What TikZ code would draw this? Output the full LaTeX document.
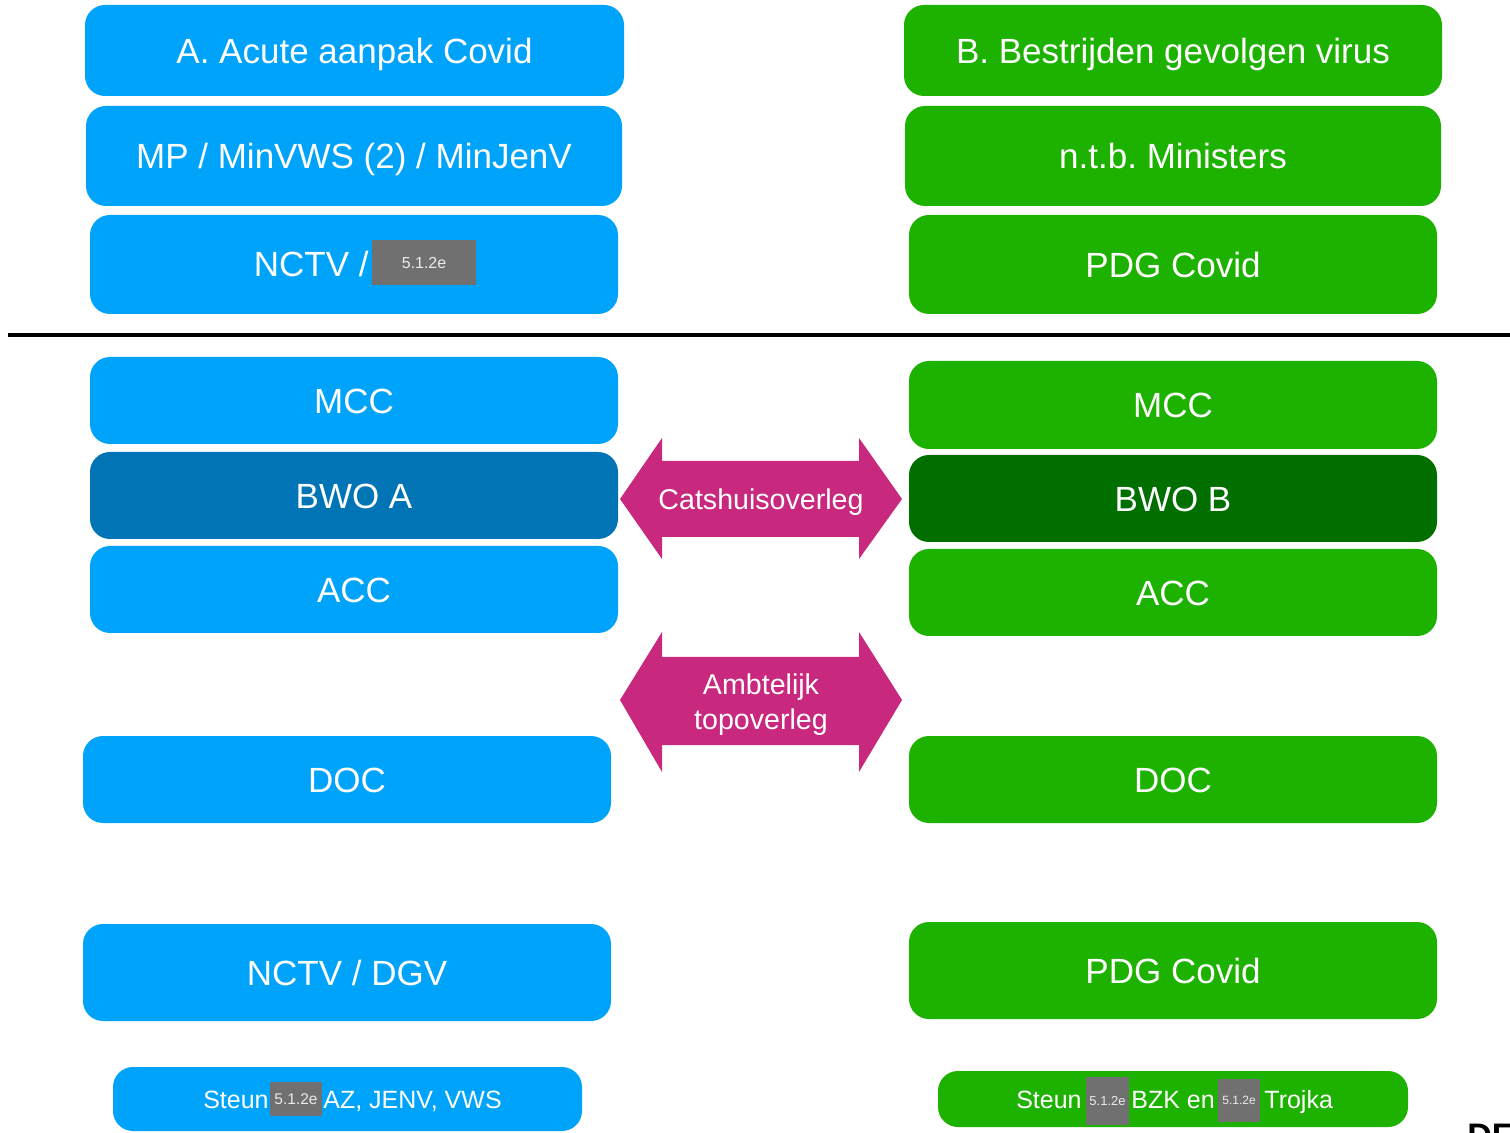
\documentclass[tikz,border=0pt]{standalone}
\usepackage{fontspec}
\setmainfont{Liberation Sans}
\frenchspacing
\definecolor{cblue}{RGB}{0,163,250}
\definecolor{cdblue}{RGB}{0,116,180}
\definecolor{cgreen}{RGB}{30,178,0}
\definecolor{cdgreen}{RGB}{0,111,0}
\definecolor{cmag}{RGB}{200,40,125}
\definecolor{cred}{RGB}{112,112,112}
\definecolor{credtxt}{RGB}{235,235,235}
\newcommand\mkcard[7]{\node[card, fill=#6, minimum width={(#4-#2)*0.5pt}, minimum height={(#5-#3)*0.5pt}] (#1) at ({(#2+#4)/2},{(#3+#5)/2}) {#7};}
\newcommand\mkredact[7]{\node[redact, minimum width={(#4-#2)*0.5pt}, minimum height={(#5-#3)*0.5pt}, font=\fontsize{#6}{#6}\selectfont] (#1) at ({(#2+#4)/2},{(#3+#5)/2}) {#7};}
\begin{document}
\begin{tikzpicture}[x=0.5pt,y=-0.5pt,
  card/.style={rounded corners=10pt, inner sep=0pt, text=white,
    font=\fontsize{17.5}{20}\selectfont, text height=12.6pt, text depth=0pt},
  redact/.style={fill=cred, inner sep=0pt, text=credtxt},
  small/.style={inner sep=0pt, text=white, font=\fontsize{12.5}{14}\selectfont,
    text height=9pt, text depth=0pt},
  btext/.style={inner sep=0pt, text=white, font=\fontsize{17.5}{20}\selectfont,
    text height=12.6pt, text depth=0pt},
  atext/.style={inner sep=0pt, text=white, align=center,
    font=\fontsize{14.3}{17.5}\selectfont},
  arrowfill/.style={fill=cmag},
  sepline/.style={line width=1.6pt, black}]
\useasboundingbox (0,0) rectangle (1510,1133);

% ---- left column (A) ----
\mkcard{a1}{85}{5}{624}{96}{cblue}{A. Acute aanpak Covid}
\mkcard{a2}{86}{106}{622}{206}{cblue}{MP / MinVWS (2) / MinJenV}
\mkcard{a3}{90}{215}{618}{314}{cblue}{}
\node[btext, anchor=east] (a3t) at (369,264) {NCTV /};
\mkredact{a3r}{372}{240}{476}{285}{8}{5.1.2e}

% ---- right column (B) ----
\mkcard{b1}{904}{5}{1442}{96}{cgreen}{B. Bestrijden gevolgen virus}
\mkcard{b2}{905}{106}{1441}{206}{cgreen}{n.t.b. Ministers}
\mkcard{b3}{909}{215}{1437}{314}{cgreen}{PDG Covid}

% ---- separator ----
\coordinate (s1) at (8,335);
\coordinate (s2) at (1512,335);
\draw[sepline] (s1) -- (s2);

% ---- lower left ----
\mkcard{a4}{90}{357}{618}{444}{cblue}{MCC}
\mkcard{a5}{90}{452}{618}{539}{cdblue}{BWO A}
\mkcard{a6}{90}{546}{618}{633}{cblue}{ACC}
\mkcard{a7}{83}{736}{611}{823}{cblue}{DOC}
\mkcard{a8}{83}{924}{611}{1021}{cblue}{NCTV / DGV}
\mkcard{a9}{113}{1067}{582}{1131}{cblue}{}
\node[small, anchor=east] (a9t1) at (269,1099) {Steun};
\mkredact{a9r}{270}{1082}{322}{1116}{7.75}{5.1.2e}
\node[small, anchor=west] (a9t2) at (323,1099) {AZ, JENV, VWS};

% ---- lower right ----
\mkcard{b4}{909}{361}{1437}{449}{cgreen}{MCC}
\mkcard{b5}{909}{455}{1437}{542}{cdgreen}{BWO B}
\mkcard{b6}{909}{549}{1437}{636}{cgreen}{ACC}
\mkcard{b7}{909}{736}{1437}{823}{cgreen}{DOC}
\mkcard{b8}{909}{922}{1437}{1019}{cgreen}{PDG Covid}
\mkcard{b9}{938}{1071}{1408}{1127}{cgreen}{}
\node[small, anchor=east] (b9t1) at (1082,1099) {Steun};
\mkredact{b9r1}{1086}{1077}{1129}{1125}{6.5}{5.1.2e}
\node[small, anchor=west] (b9t2) at (1131,1099) {BZK en};
\mkredact{b9r2}{1218}{1079}{1260}{1122}{6}{5.1.2e}
\node[small, anchor=west] (b9t3) at (1264,1099) {Trojka};

% ---- double arrows ----
\fill[arrowfill] (620,499) -- (662,438) -- (662,461) -- (859,461) -- (859,438)
  -- (902,499) -- (859,559) -- (859,537) -- (662,537) -- (662,559) -- cycle;
\node[atext] (c1) at (761,502) {Catshuisoverleg};

\fill[arrowfill] (620,700) -- (662,632) -- (662,657) -- (859,657) -- (859,632)
  -- (902,700) -- (859,772) -- (859,745) -- (662,745) -- (662,772) -- cycle;
\node[atext] (c2) at (761,705) {Ambtelijk\\topoverleg};

% ---- cut-off stamp (cut by the page edge, as in the reference) ----
\node[inner sep=0pt, anchor=base west, font=\fontsize{17}{20}\selectfont\bfseries] (def) at (1467,1147) {DEF};
\end{tikzpicture}
\end{document}
